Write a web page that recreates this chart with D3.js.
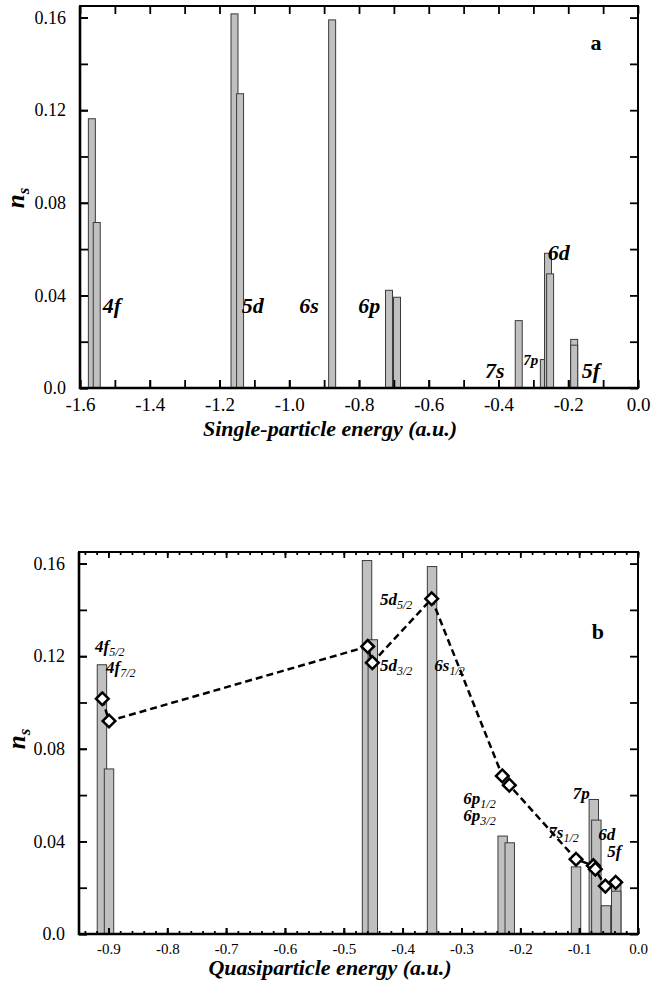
<!DOCTYPE html>
<html>
<head>
<meta charset="utf-8">
<script src="https://cdn.jsdelivr.net/npm/d3@7"></script>
<style>
    body { margin: 0; background: white; }
    svg text { font-family: "Liberation Serif", "Times New Roman", serif !important; fill: black; }
</style>
</head>
<body>
<div id="chart"></div>
<script>

// panel a: single-particle levels
const spEnergy = [-1.566, -1.552, -1.157, -1.141, -0.877, -0.714, -0.691, -0.342, -0.270, -0.258, -0.252, -0.183, -0.183];
const spOcc = [0.1163, 0.0715, 0.1616, 0.1271, 0.1590, 0.0422, 0.0392, 0.0291, 0.0123, 0.0582, 0.0493, 0.0210, 0.0185];
const spLabelText = ["4f", "5d", "6s", "6p", "7s", "6d", "5f"];
const spLabelE = [-1.535, -1.136, -0.971, -0.802, -0.439, -0.259, -0.161];
const spLabelN = [0.0324, 0.0324, 0.0324, 0.0324, 0.0042, 0.0554, 0.0042];
const spSmallText = ["7p"];
const spSmallE = [-0.329];
const spSmallN = [0.0099];

// panel b: quasiparticle levels
const qpEnergy = [-0.911, -0.899, -0.4605, -0.4507, -0.350, -0.230, -0.218, -0.1053, -0.0751, -0.0708, -0.0544, -0.037, -0.037];
const qpOcc = [0.1163, 0.0713, 0.1613, 0.1271, 0.1587, 0.0423, 0.0394, 0.0290, 0.0581, 0.0492, 0.0122, 0.0210, 0.0185];
const qpPointE = [-0.9104, -0.899, -0.4594, -0.4515, -0.3506, -0.2306, -0.2187, -0.1053, -0.0759, -0.0725, -0.0555, -0.0379];
const qpPointN = [0.1016, 0.0920, 0.1242, 0.1172, 0.1448, 0.0683, 0.0643, 0.0323, 0.0295, 0.0280, 0.0207, 0.0223];
const qpLabelText = ["4f", "4f", "5d", "5d", "6s", "6p", "6p", "7s", "7p", "6d", "5f"];
const qpLabelSub = ["5/2", "7/2", "5/2", "3/2", "1/2", "1/2", "3/2", "1/2", "", "", ""];
const qpLabelE = [-0.9228, -0.9041, -0.4384, -0.4384, -0.3462, -0.2969, -0.2969, -0.1524, -0.111, -0.0675, -0.0521];
const qpLabelN = [0.1220, 0.1126, 0.1419, 0.1134, 0.1134, 0.0563, 0.0487, 0.0413, 0.0585, 0.0405, 0.0333];

// axis ticks
const spXTicks = d3.range(0, 17).map(i => -1.6 + i * 0.1);
const qpXTicks = d3.range(0, 10).map(i => -0.9 + i * 0.1);
const qpXMinor = d3.range(0, 48).map(i => -0.94 + i * 0.02);
const yTicks = [0, 0.04, 0.08, 0.12, 0.16];
const yMinor = d3.range(0, 9).map(i => i * 0.02);

const SERIF = '"Liberation Serif", "Times New Roman", serif';


class PanelVis {

    constructor(svg, opts) {
        this.svg = svg;
        this.opts = opts;
        this.initVis();
    }

    initVis() {
        let vis = this;
        let o = vis.opts;

        vis.x = d3.scaleLinear().domain(o.xDomain).range([o.left, o.right]);
        vis.y = d3.scaleLinear().domain([0, 0.165]).range([o.bottom, o.top]);

        vis.g = vis.svg.append("g");

        // bars
        let bars = o.energy.map((e, i) => ({e: e, n: o.occ[i]}));
        let bw = vis.x(o.barWidth) - vis.x(0);
        vis.g.selectAll(".bar")
            .data(bars)
            .enter()
            .append("rect")
            .attr("class", "bar")
            .attr("x", d => vis.x(d.e) - bw / 2)
            .attr("width", bw)
            .attr("y", d => vis.y(d.n))
            .attr("height", d => vis.y(0) - vis.y(d.n))
            .attr("fill", "#c0c0c0")
            .attr("stroke", "#3a3a3a")
            .attr("stroke-width", 1);

        // dashed line with diamonds (panel b only)
        if (o.pointE) {
            let pts = o.pointE.map((e, i) => ({e: e, n: o.pointN[i]}));
            let line = d3.line().x(d => vis.x(d.e)).y(d => vis.y(d.n));
            vis.g.append("path")
                .datum(pts)
                .attr("d", line)
                .attr("fill", "none")
                .attr("stroke", "black")
                .attr("stroke-width", 2.5)
                .attr("stroke-dasharray", "7,4");

            vis.g.selectAll(".pt")
                .data(pts)
                .enter()
                .append("path")
                .attr("class", "pt")
                .attr("d", d3.symbol(d3.symbolSquare, 80)())
                .attr("transform", d => `translate(${vis.x(d.e)},${vis.y(d.n)}) rotate(45)`)
                .attr("fill", "white")
                .attr("stroke", "black")
                .attr("stroke-width", 2.5);
        }

        vis.drawAxes();
        vis.drawLabels();
    }

    drawAxes() {
        let vis = this;
        let o = vis.opts;
        let fmtX = d => d.toFixed(1);
        let fmtY = d => d === 0 ? "0.0" : d.toFixed(2);

        // bottom axis with labels
        let bottom = vis.g.append("g")
            .attr("transform", `translate(0,${o.bottom})`)
            .call(d3.axisBottom(vis.x).tickValues(o.xLabelTicks).tickFormat(fmtX)
                .tickSizeInner(-o.xTickLen).tickSizeOuter(0).tickPadding(o.xPad));
        bottom.attr("font-family", SERIF);
        bottom.selectAll("text").style("font-size", o.xFont + "px");

        let xTickSets = [[o.xTicks, o.xTickLen]];
        if (o.xMinor) xTickSets.push([o.xMinor, 3]);

        xTickSets.forEach(([vals, len]) => {
            vis.g.append("g")
                .attr("transform", `translate(0,${o.bottom})`)
                .call(d3.axisBottom(vis.x).tickValues(vals).tickFormat("").tickSizeInner(-len).tickSizeOuter(0));
            vis.g.append("g")
                .attr("transform", `translate(0,${o.top})`)
                .call(d3.axisTop(vis.x).tickValues(vals).tickFormat("").tickSizeInner(-len).tickSizeOuter(0));
        });

        // left axis with labels
        let left = vis.g.append("g")
            .attr("transform", `translate(${o.left},0)`)
            .call(d3.axisLeft(vis.y).tickValues(yTicks).tickFormat(fmtY)
                .tickSizeInner(-8).tickSizeOuter(0).tickPadding(14));
        left.attr("font-family", SERIF);
        left.selectAll("text").style("font-size", "18px");

        vis.g.append("g")
            .attr("transform", `translate(${o.left},0)`)
            .call(d3.axisLeft(vis.y).tickValues(yMinor).tickFormat("").tickSizeInner(-8).tickSizeOuter(0));
        vis.g.append("g")
            .attr("transform", `translate(${o.right},0)`)
            .call(d3.axisRight(vis.y).tickValues(yMinor).tickFormat("").tickSizeInner(-8).tickSizeOuter(0));

        vis.g.selectAll(".tick line").attr("stroke", "black").attr("stroke-width", 1.8);
        vis.g.selectAll(".domain").remove();

        // frame
        vis.g.append("rect")
            .attr("x", o.left).attr("y", o.top)
            .attr("width", o.right - o.left).attr("height", o.bottom - o.top)
            .attr("fill", "none").attr("stroke", "black").attr("stroke-width", 2);
        vis.g.append("path")
            .attr("d", `M${o.left},${o.top}V${o.bottom}H${o.right}`)
            .attr("fill", "none").attr("stroke", "black").attr("stroke-width", 2.6);

        // axis titles
        vis.g.append("text")
            .attr("x", o.titleX).attr("y", o.titleY)
            .attr("text-anchor", "middle")
            .style("font-size", "22px").style("font-weight", "bold").style("font-style", "italic")
            .text(o.title);

        let ns = vis.g.append("text")
            .attr("transform", `translate(${o.nsX},${o.nsY}) rotate(-90)`)
            .attr("text-anchor", "middle")
            .style("font-weight", "bold").style("font-style", "italic");
        ns.append("tspan").style("font-size", "25px").text("n");
        ns.append("tspan").attr("dy", 5).style("font-size", "17px").text("s");
    }

    drawLabels() {
        let vis = this;
        let o = vis.opts;

        o.labelText.forEach((t, i) => {
            let txt = vis.g.append("text")
                .attr("x", vis.x(o.labelE[i]))
                .attr("y", vis.y(o.labelN[i]))
                .style("font-style", "italic");
            txt.append("tspan").style("font-weight", "bold").style("font-size", o.labelFont + "px").text(t);
            if (o.labelSub && o.labelSub[i]) {
                txt.append("tspan").attr("dy", 4).style("font-size", "12px").text(o.labelSub[i]);
            }
        });

        if (o.smallText) {
            o.smallText.forEach((t, i) => {
                vis.g.append("text")
                    .attr("x", vis.x(o.smallE[i]))
                    .attr("y", vis.y(o.smallN[i]))
                    .style("font-style", "italic").style("font-weight", "bold")
                    .style("font-size", "15px")
                    .text(t);
            });
        }

        vis.g.append("text")
            .attr("x", vis.x(o.letterPos[0]))
            .attr("y", vis.y(o.letterPos[1]))
            .style("font-weight", "bold").style("font-size", "22px")
            .text(o.letter);
    }
}

let svg = d3.select("#chart").append("svg")
    .attr("width", 651)
    .attr("height", 985)
    .attr("font-family", SERIF);

let panelA = new PanelVis(svg, {
    left: 80, right: 638, top: 6, bottom: 388,
    xDomain: [-1.6, 0], barWidth: 0.02,
    energy: spEnergy, occ: spOcc,
    xTicks: spXTicks, xLabelTicks: spXTicks.filter((d, i) => i % 2 === 0),
    xTickLen: 8, xPad: 10, xFont: 19,
    title: "Single-particle energy (a.u.)", titleX: 330, titleY: 436,
    nsX: 24, nsY: 198,
    labelText: spLabelText, labelE: spLabelE, labelN: spLabelN, labelFont: 22,
    smallText: spSmallText, smallE: spSmallE, smallN: spSmallN,
    letter: "a", letterPos: [-0.136, 0.1462]
});

let panelB = new PanelVis(svg, {
    left: 79, right: 638, top: 552, bottom: 934,
    xDomain: [-0.95, 0], barWidth: 0.016,
    energy: qpEnergy, occ: qpOcc,
    pointE: qpPointE, pointN: qpPointN,
    xTicks: qpXTicks, xLabelTicks: qpXTicks, xMinor: qpXMinor,
    xTickLen: 6, xPad: 9, xFont: 15,
    title: "Quasiparticle energy (a.u.)", titleX: 330, titleY: 975,
    nsX: 25, nsY: 739,
    labelText: qpLabelText, labelSub: qpLabelSub, labelE: qpLabelE, labelN: qpLabelN, labelFont: 17,
    letter: "b", letterPos: [-0.0787, 0.1275]
});

</script>
</body>
</html>
